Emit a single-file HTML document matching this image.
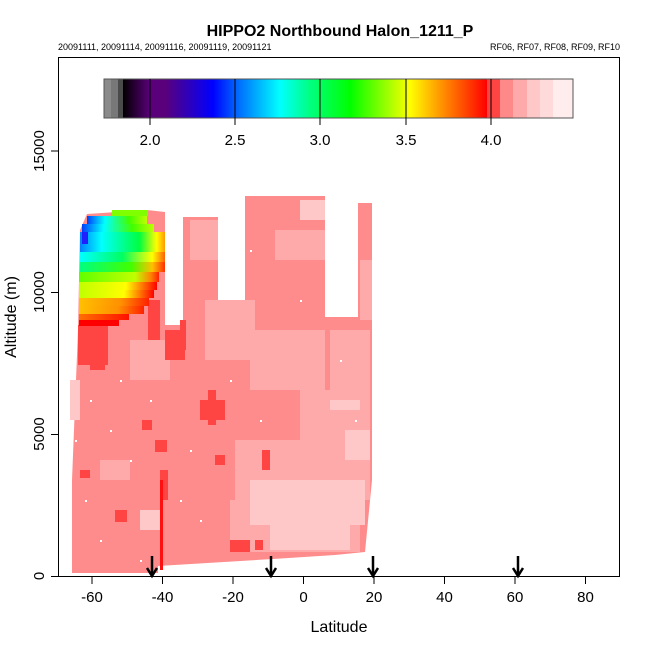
<!DOCTYPE html>
<html><head><meta charset="utf-8"><style>
html,body{margin:0;padding:0;background:#fff;}
svg{display:block;font-family:"Liberation Sans",sans-serif;}
</style></head><body>
<svg width="650" height="650" viewBox="0 0 650 650" xmlns="http://www.w3.org/2000/svg">
<defs>
<linearGradient id="cb" x1="123" x2="487" y1="0" y2="0" gradientUnits="userSpaceOnUse">
<stop offset="0" stop-color="#000000"/>
<stop offset="0.074" stop-color="#5a007a"/>
<stop offset="0.115" stop-color="#5a007a"/>
<stop offset="0.247" stop-color="#0000ff"/>
<stop offset="0.308" stop-color="#0060ff"/>
<stop offset="0.431" stop-color="#00ffff"/>
<stop offset="0.514" stop-color="#00ff80"/>
<stop offset="0.624" stop-color="#00ff00"/>
<stop offset="0.734" stop-color="#aaff00"/>
<stop offset="0.788" stop-color="#ffff00"/>
<stop offset="0.87" stop-color="#ff9900"/>
<stop offset="1" stop-color="#ff0000"/>
</linearGradient>
<linearGradient id="r1" x1="0" x2="1"><stop offset="0" stop-color="#0040ff"/><stop offset="0.3" stop-color="#00ffff"/><stop offset="0.7" stop-color="#40ff00"/><stop offset="1" stop-color="#c0ff00"/></linearGradient>
<linearGradient id="r2" x1="0" x2="1"><stop offset="0" stop-color="#0080ff"/><stop offset="0.25" stop-color="#00ffff"/><stop offset="0.7" stop-color="#00ff40"/><stop offset="0.9" stop-color="#ffff00"/><stop offset="1" stop-color="#ff9900"/></linearGradient>
<linearGradient id="r3" x1="0" x2="1"><stop offset="0" stop-color="#00ffff"/><stop offset="0.5" stop-color="#00ff60"/><stop offset="0.85" stop-color="#ffff00"/><stop offset="1" stop-color="#ff6000"/></linearGradient>
<linearGradient id="r4" x1="0" x2="1"><stop offset="0" stop-color="#00ff80"/><stop offset="0.6" stop-color="#40ff00"/><stop offset="0.85" stop-color="#ffc000"/><stop offset="1" stop-color="#ff3000"/></linearGradient>
<linearGradient id="r5" x1="0" x2="1"><stop offset="0" stop-color="#60ff00"/><stop offset="0.7" stop-color="#c0ff00"/><stop offset="0.9" stop-color="#ff8000"/><stop offset="1" stop-color="#ff2000"/></linearGradient>
<linearGradient id="r6" x1="0" x2="1"><stop offset="0" stop-color="#c0ff00"/><stop offset="0.6" stop-color="#ffff00"/><stop offset="0.85" stop-color="#ff6000"/><stop offset="1" stop-color="#ff0000"/></linearGradient>
<linearGradient id="r7" x1="0" x2="1"><stop offset="0" stop-color="#ffc000"/><stop offset="0.6" stop-color="#ff9000"/><stop offset="1" stop-color="#ff2000"/></linearGradient>
<linearGradient id="r8" x1="0" x2="1"><stop offset="0" stop-color="#ff7000"/><stop offset="1" stop-color="#ff1000"/></linearGradient>
</defs>

<text x="340" y="36" font-size="16" font-weight="bold" text-anchor="middle">HIPPO2 Northbound Halon_1211_P</text>
<text x="58" y="50" font-size="9">20091111, 20091114, 20091116, 20091119, 20091121</text>
<text x="620" y="50" font-size="9" text-anchor="end">RF06, RF07, RF08, RF09, RF10</text>

<!-- data -->
<polygon fill="#ff8c8c" points="80,230 87,214 147,210 165,212 165,325 183,325 183,217 218,217 218,324 245,324 245,196 325,196 325,317 358,317 358,203 372,203 372,480 365,552 335,555 273,559 158,566 158,573 72,573 72,480 78,330"/>
<!-- lighter patches -->
<g fill="#ffaaaa">
<rect x="190" y="220" width="28" height="40"/><rect x="205" y="300" width="50" height="60"/>
<rect x="250" y="330" width="75" height="60"/><rect x="275" y="230" width="50" height="30"/>
<rect x="300" y="390" width="70" height="60"/><rect x="330" y="330" width="40" height="70"/>
<rect x="235" y="440" width="135" height="60"/><rect x="230" y="500" width="130" height="52"/>
<rect x="130" y="340" width="40" height="40"/><rect x="100" y="460" width="30" height="20"/>
<rect x="280" y="340" width="20" height="40"/><rect x="360" y="260" width="12" height="60"/>
</g>
<g fill="#ffc8c8">
<rect x="250" y="480" width="115" height="45"/><rect x="270" y="525" width="80" height="25"/>
<rect x="300" y="200" width="25" height="20"/><rect x="345" y="430" width="25" height="30"/>
<rect x="70" y="380" width="10" height="40"/><rect x="140" y="510" width="20" height="20"/>
<rect x="330" y="400" width="30" height="10"/>
</g>
<g fill="#ff4444">
<rect x="78" y="325" width="30" height="40"/><rect x="165" y="330" width="20" height="30"/>
<rect x="90" y="350" width="15" height="20"/><rect x="200" y="400" width="25" height="20"/>
<rect x="208" y="390" width="8" height="35"/><rect x="155" y="440" width="12" height="12"/>
<rect x="115" y="510" width="12" height="12"/><rect x="230" y="540" width="20" height="12"/>
<rect x="262" y="450" width="8" height="20"/><rect x="215" y="455" width="10" height="10"/>
<rect x="80" y="470" width="10" height="8"/><rect x="160" y="470" width="8" height="30"/>
<rect x="142" y="420" width="10" height="10"/><rect x="255" y="540" width="8" height="10"/>
<rect x="148" y="300" width="12" height="40"/><rect x="180" y="320" width="6" height="30"/>
</g>
<rect x="160" y="480" width="3" height="90" fill="#ff1010"/>
<!-- colored upper-left -->
<rect x="112" y="210" width="36" height="6" fill="#80ff00"/>
<rect x="87" y="216" width="60" height="8" fill="url(#r1)"/>
<rect x="82" y="224" width="72" height="8" fill="url(#r1)"/>
<rect x="80" y="232" width="85" height="10" fill="url(#r2)"/>
<rect x="80" y="242" width="85" height="10" fill="url(#r2)"/>
<rect x="80" y="252" width="85" height="10" fill="url(#r3)"/>
<rect x="80" y="262" width="85" height="10" fill="url(#r4)"/>
<rect x="79" y="272" width="80" height="10" fill="url(#r5)"/>
<rect x="79" y="282" width="78" height="8" fill="url(#r6)"/>
<rect x="79" y="290" width="75" height="8" fill="url(#r6)"/>
<rect x="79" y="298" width="70" height="8" fill="url(#r7)"/>
<rect x="79" y="306" width="65" height="8" fill="url(#r7)"/>
<rect x="79" y="314" width="50" height="6" fill="url(#r8)"/>
<rect x="79" y="320" width="40" height="6" fill="#ff0000"/>
<rect x="82" y="232" width="6" height="12" fill="#2020ff"/>
<!-- white dots -->
<g fill="#fff">
<rect x="90" y="400" width="2" height="2"/><rect x="110" y="430" width="2" height="2"/><rect x="130" y="460" width="2" height="2"/>
<rect x="85" y="500" width="2" height="2"/><rect x="100" y="540" width="2" height="2"/><rect x="120" y="380" width="2" height="2"/>
<rect x="150" y="400" width="2" height="2"/><rect x="190" y="450" width="2" height="2"/><rect x="200" y="520" width="2" height="2"/>
<rect x="230" y="380" width="2" height="2"/><rect x="260" y="420" width="2" height="2"/><rect x="300" y="300" width="2" height="2"/>
<rect x="340" y="360" width="2" height="2"/><rect x="355" y="420" width="2" height="2"/><rect x="75" y="440" width="2" height="2"/>
<rect x="140" y="560" width="2" height="2"/><rect x="180" y="500" width="2" height="2"/><rect x="250" y="250" width="2" height="2"/>
</g>

<!-- colorbar -->
<rect x="104" y="79" width="7" height="39" fill="#8a8a8a"/>
<rect x="111" y="79" width="7" height="39" fill="#787878"/>
<rect x="118" y="79" width="5" height="39" fill="#4a4a4a"/>
<rect x="123" y="79" width="364" height="39" fill="url(#cb)"/>
<rect x="487" y="79" width="13" height="39" fill="#ff4444"/>
<rect x="500" y="79" width="13" height="39" fill="#ff8888"/>
<rect x="513" y="79" width="14" height="39" fill="#ffaaaa"/>
<rect x="527" y="79" width="13" height="39" fill="#ffc8c8"/>
<rect x="540" y="79" width="13" height="39" fill="#ffdada"/>
<rect x="553" y="79" width="20" height="39" fill="#ffecec"/>
<rect x="104" y="79" width="469" height="39" fill="none" stroke="#555" stroke-width="1"/>
<g stroke="#000" stroke-width="1">
<line x1="150" y1="79" x2="150" y2="125"/><line x1="235" y1="79" x2="235" y2="125"/>
<line x1="320" y1="79" x2="320" y2="125"/><line x1="406" y1="79" x2="406" y2="125"/>
<line x1="491" y1="79" x2="491" y2="125"/>
</g>
<g font-size="15" text-anchor="middle">
<text x="150" y="145">2.0</text><text x="235" y="145">2.5</text><text x="320" y="145">3.0</text><text x="406" y="145">3.5</text><text x="491" y="145">4.0</text>
</g>

<!-- arrows -->
<g stroke="#000" stroke-width="2.5" fill="none">
<line x1="152" y1="556" x2="152" y2="575"/><polyline points="147,568 152,576 157,568"/>
<line x1="271" y1="556" x2="271" y2="575"/><polyline points="266,568 271,576 276,568"/>
<line x1="373" y1="556" x2="373" y2="575"/><polyline points="368,568 373,576 378,568"/>
<line x1="518" y1="556" x2="518" y2="575"/><polyline points="513,568 518,576 523,568"/>
</g>

<!-- axes box -->
<rect x="58.5" y="57.5" width="561" height="519" fill="none" stroke="#000" stroke-width="1"/>
<g stroke="#000" stroke-width="1">
<line x1="92" y1="577" x2="92" y2="584"/><line x1="162.5" y1="577" x2="162.5" y2="584"/>
<line x1="233" y1="577" x2="233" y2="584"/><line x1="303.5" y1="577" x2="303.5" y2="584"/>
<line x1="374" y1="577" x2="374" y2="584"/><line x1="444.5" y1="577" x2="444.5" y2="584"/>
<line x1="515" y1="577" x2="515" y2="584"/><line x1="585.5" y1="577" x2="585.5" y2="584"/>
<line x1="51" y1="576.5" x2="58" y2="576.5"/><line x1="51" y1="434.5" x2="58" y2="434.5"/>
<line x1="51" y1="292.5" x2="58" y2="292.5"/><line x1="51" y1="151" x2="58" y2="151"/>
</g>
<g font-size="15" text-anchor="middle">
<text x="92" y="602">-60</text><text x="162.5" y="602">-40</text><text x="233" y="602">-20</text>
<text x="303.5" y="602">0</text><text x="374" y="602">20</text><text x="444.5" y="602">40</text>
<text x="515" y="602">60</text><text x="585.5" y="602">80</text>
</g>
<g font-size="15" text-anchor="middle">
<text transform="translate(44,576) rotate(-90)">0</text>
<text transform="translate(44,434) rotate(-90)">5000</text>
<text transform="translate(44,292) rotate(-90)">10000</text>
<text transform="translate(44,151) rotate(-90)">15000</text>
</g>
<text x="339" y="632" font-size="16" text-anchor="middle">Latitude</text>
<text transform="translate(16,317) rotate(-90)" font-size="16" text-anchor="middle">Altitude (m)</text>
</svg>
</body></html>
